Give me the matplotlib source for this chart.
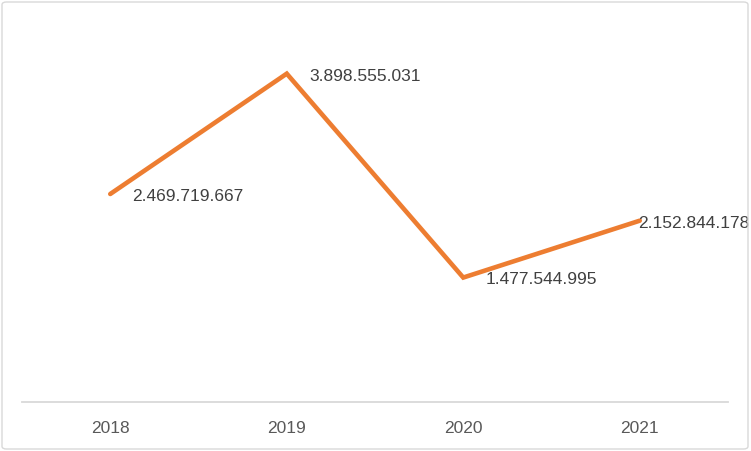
import matplotlib
matplotlib.use("Agg")
from matplotlib import pyplot as plt
from matplotlib.patches import FancyBboxPatch

years = ["2018", "2019", "2020", "2021"]
values = [2469719667, 3898555031, 1477544995, 2152844178]
labels = ["2.469.719.667", "3.898.555.031", "1.477.544.995", "2.152.844.178"]

plt.rcParams['font.family'] = ['Liberation Sans', 'DejaVu Sans']

fig = plt.figure(figsize=(7.51, 4.52), dpi=100)
ax = fig.add_axes([22/751, 49/452, 706/751, 379/452])

x = list(range(len(years)))
ax.plot(x, values, color="#ED7D31", linewidth=3.3, solid_capstyle="round",
        solid_joinstyle="miter")

# last label is pushed left so it stays inside the chart, like excel does
x_off = [16, 16, 16, -1]
for xi, v, lab, dx in zip(x, values, labels, x_off):
    ax.annotate(lab, (xi, v), xytext=(dx, -1), textcoords="offset points",
                ha="left", va="center", fontsize=12.5, color="#404040")

ax.set_xlim(-0.5, 3.5)
ax.set_ylim(0, 4.5e9)
ax.set_xticks(x)
ax.set_xticklabels(years, fontsize=12.5, color="#595959")
ax.tick_params(axis="x", length=0, pad=13)
ax.set_yticks([])
for s in ["top", "left", "right"]:
    ax.spines[s].set_visible(False)
ax.spines["bottom"].set_color("#D9D9D9")
ax.spines["bottom"].set_linewidth(1.3)

# chart border
border = FancyBboxPatch((2/751, 2/452), 746/751, 447/452,
                        boxstyle="round,pad=0,rounding_size=0.006",
                        transform=fig.transFigure, fill=False,
                        edgecolor="#D9D9D9", linewidth=1.0)
fig.patches.append(border)

fig.savefig("out.png", dpi=100)
